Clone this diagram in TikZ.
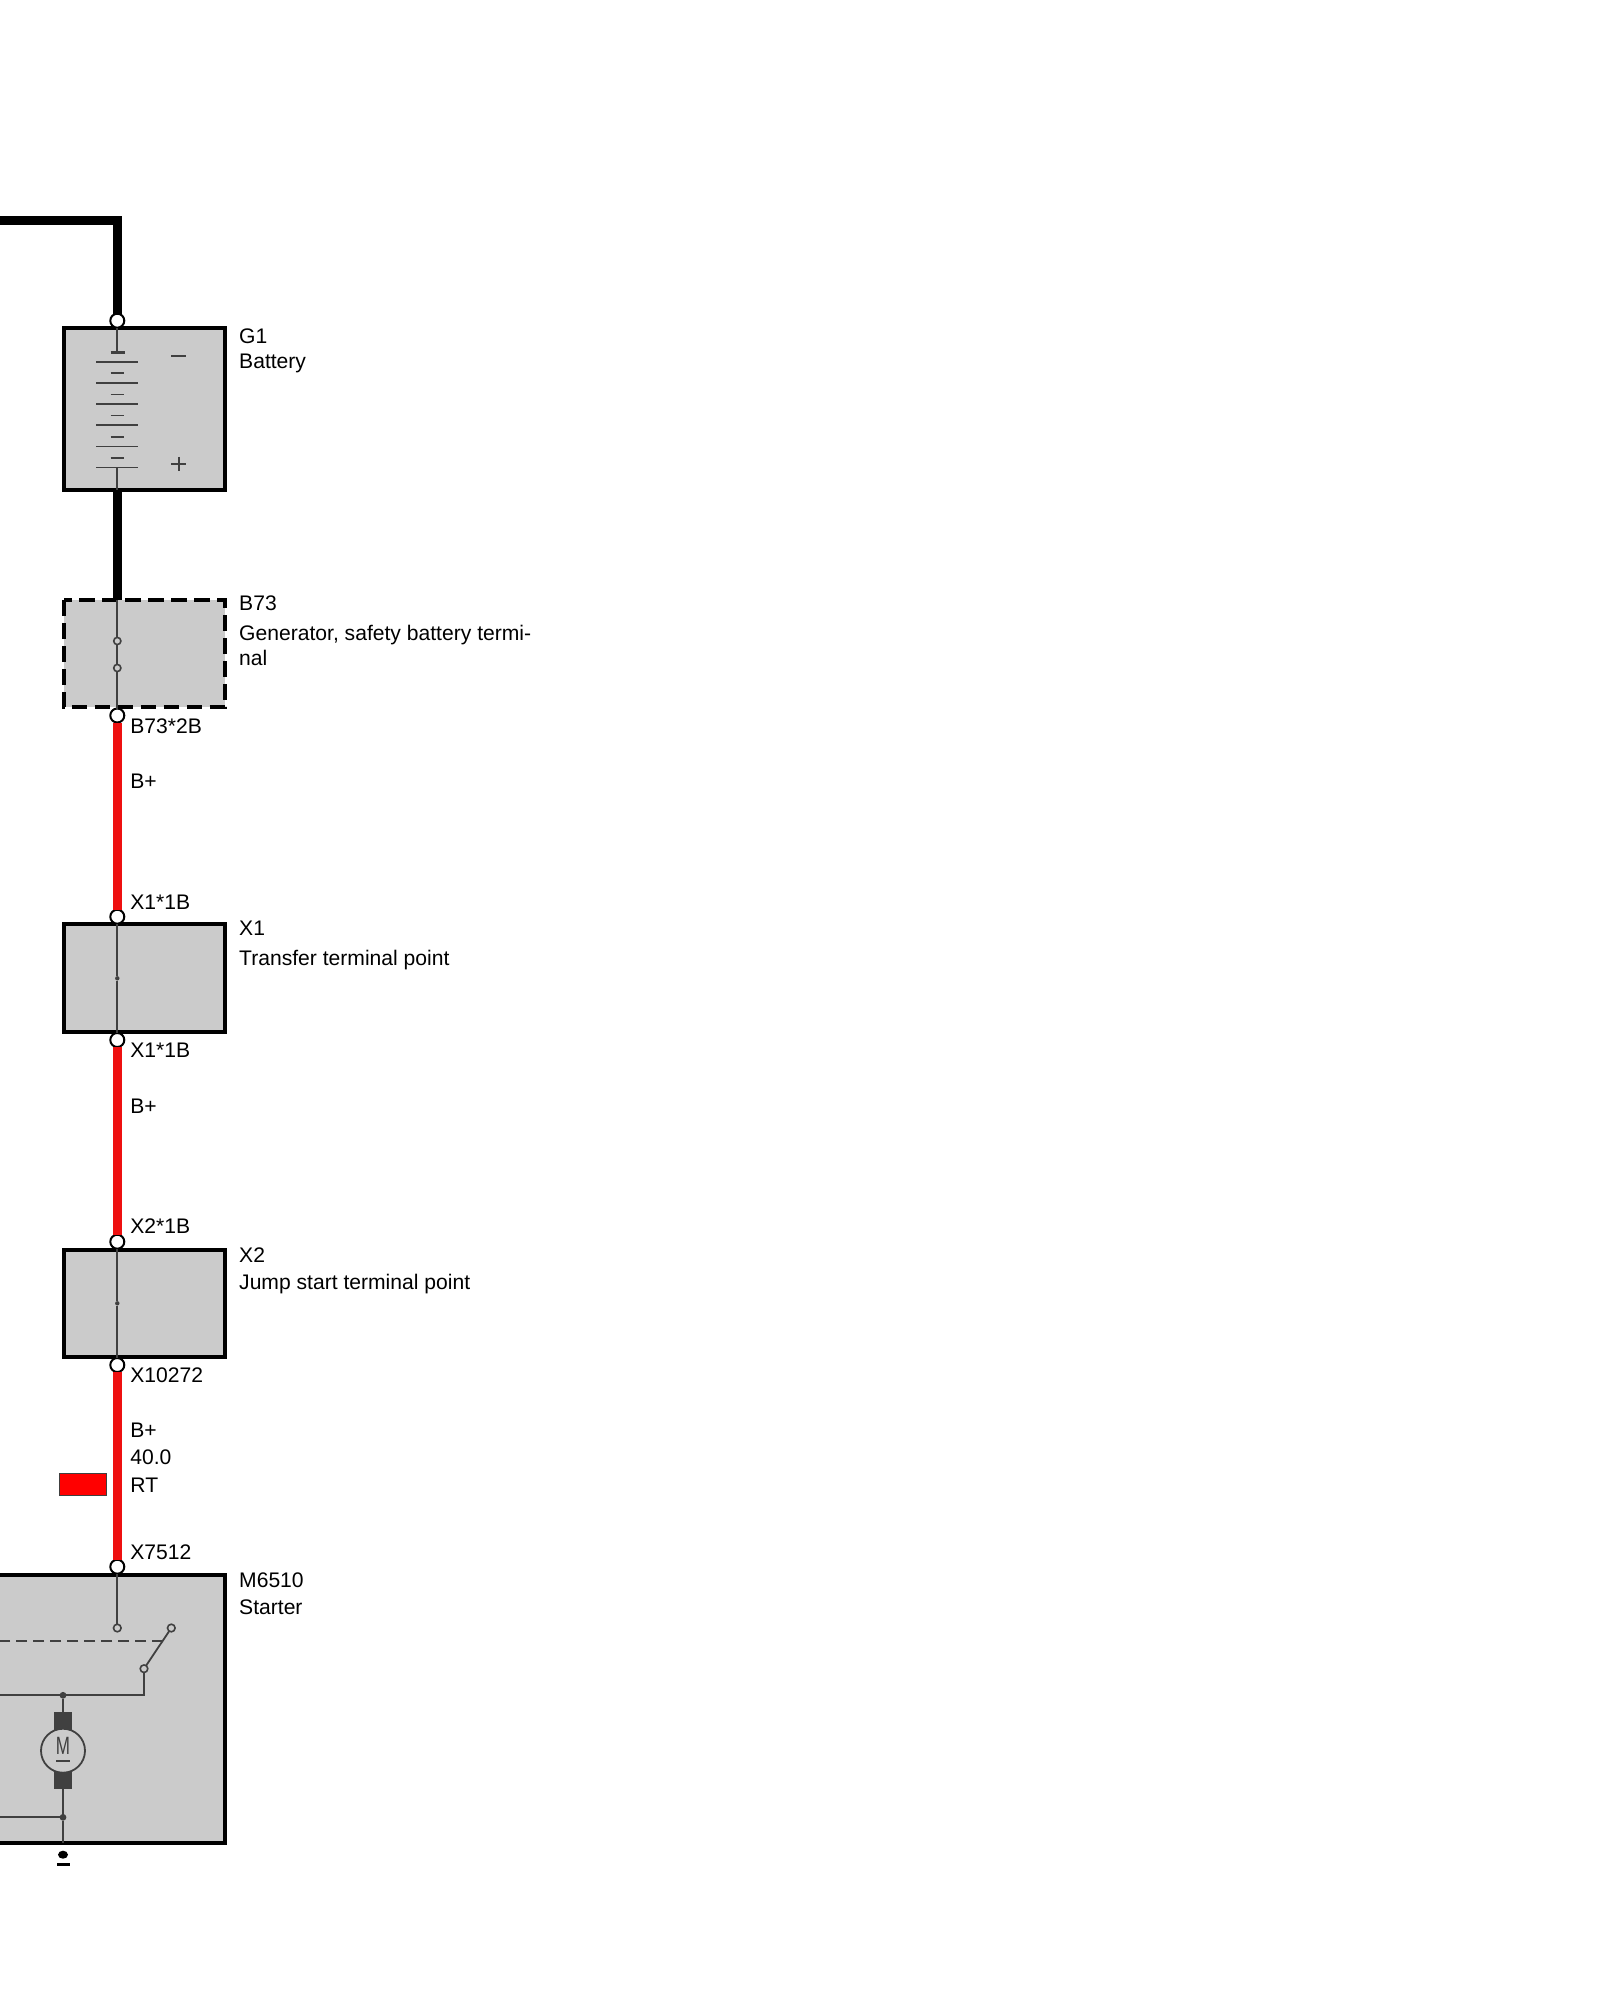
\documentclass[tikz,border=0pt]{standalone}
\usepackage{fontspec}
\setmainfont{Liberation Sans}
\usetikzlibrary{shapes.geometric}
\definecolor{boxgray}{HTML}{CBCBCB}
\definecolor{innerline}{HTML}{404040}
\definecolor{wirered}{HTML}{EE1010}
\tikzset{
	unitbox/.style={draw=black, fill=boxgray, line width=2pt, inner sep=0pt, outer sep=0pt, anchor=north west},
	terminal/.style={circle, draw=black, fill=white, line width=1pt, minimum size=7pt, inner sep=0pt, outer sep=0pt},
	contact/.style={circle, draw=innerline, fill=boxgray, line width=0.8pt, minimum size=3.6pt, inner sep=0pt, outer sep=0pt},
	junction/.style={circle, fill=innerline, minimum size=2.2pt, inner sep=0pt, outer sep=0pt},
	bigjunction/.style={circle, fill=innerline, minimum size=3.4pt, inner sep=0pt, outer sep=0pt},
	brush/.style={fill=innerline, minimum width=9pt, minimum height=9.4pt, inner sep=0pt, outer sep=0pt},
	blackwire/.style={draw=black, line width=4.2pt},
	redwire/.style={draw=wirered, line width=4.2pt},
	innerwire/.style={draw=innerline, line width=0.9pt},
	label/.style={anchor=base west, inner sep=0pt, font=\fontsize{10.55}{12}\selectfont}
}
\begin{document}
\begin{tikzpicture}[x=0.5pt,y=-0.5pt]
\useasboundingbox (0,0) rectangle (1600,2000);
\fill[white] (0,0) rectangle (1600,2000);
% boxes
\node [unitbox, minimum width=80.75pt, minimum height=80.75pt] (g1) at (63.5,328) {};
\node [unitbox, draw=none, minimum width=80.75pt, minimum height=53.5pt] (b73) at (63.5,600) {};
\node [unitbox, minimum width=80.75pt, minimum height=53.9pt] (x1) at (63.5,924.2) {};
\node [unitbox, minimum width=80.75pt, minimum height=53.4pt] (x2) at (63.5,1250) {};
\node [unitbox, minimum width=122.5pt, minimum height=134.2pt] (m6510) at (-20,1575) {};
\draw[black, line width=2pt, dash pattern=on 7.8pt off 3.7pt] (b73.north west) rectangle (b73.south east);
% terminals
\node [terminal] (g1top) at (117.3,320.7) {};
\coordinate (g1bot) at (117.3,490);
\coordinate (b73top) at (117.3,600);
\node [terminal] (b73bot) at (117.3,715.5) {};
\node [terminal] (x1top) at (117.3,916.7) {};
\node [terminal] (x1bot) at (117.3,1040) {};
\node [terminal] (x2top) at (117.3,1241.7) {};
\node [terminal] (x2bot) at (117.3,1365) {};
\node [terminal] (mtop) at (117.3,1566.7) {};
% wires
\coordinate (wirestart) at (-10,220.7);
\draw[blackwire] (wirestart) -| (g1top);
\draw[blackwire] (g1bot) -- (b73top);
\draw[redwire] (b73bot) -- (x1top);
\draw[redwire] (x1bot) -- (x2top);
\draw[redwire] (x2bot) -- (mtop);
% battery
\coordinate (cellA) at (117.3,352.4);
\coordinate (cellB) at (117.3,467.6);
\draw[innerwire] (g1top) -- (cellA);
\draw[innerwire] (cellB) -- (g1bot);
\draw[innerline, line width=1.5pt] (110.5,352.4) -- (124.5,352.4);
\foreach \y in {362,383.1,404.2,425.4,446.5,467.6}
	\draw[innerwire] (96.4,\y) -- (138,\y);
\foreach \y in {373.4,394.5,415.6,436.7,457.8}
	\draw[innerwire] (110.7,\y) -- (124.3,\y);
\draw[innerline, line width=1pt] (171.4,355.9) -- (185.7,355.9);
\draw[innerline, line width=0.9pt] (171.4,464) -- (185.7,464) (178.6,457) -- (178.6,471);
% safety terminal
\node [contact] (b73a) at (117.3,641) {};
\node [contact] (b73b) at (117.3,668) {};
\draw[innerwire] (b73top) -- (b73a) (b73a) -- (b73b) (b73b) -- (b73bot);
% terminal points
\node [junction] (x1dot) at (117.3,978.3) {};
\node [junction] (x2dot) at (117.3,1303.3) {};
\draw[innerwire] (x1top) -- (x1dot) -- (x1bot);
\draw[innerwire] (x2top) -- (x2dot) -- (x2bot);
% colour swatch
\node [draw=innerline, fill=red, line width=0.5pt, minimum width=23.5pt, minimum height=11pt, inner sep=0pt] (swatch) at (82.5,1484.5) {};
% starter
\node [contact, minimum size=3.8pt] (sw1) at (117.3,1628) {};
\node [contact, minimum size=3.8pt] (sw2) at (171.3,1628) {};
\node [contact, minimum size=3.8pt] (sw3) at (144,1668.7) {};
\node [bigjunction] (j1) at (63,1695.3) {};
\node [bigjunction] (j2) at (63,1817.3) {};
\node [brush] (brushup) at (63,1721.2) {};
\node [brush] (brushdn) at (63,1780) {};
\node [circle, draw=innerline, fill=boxgray, line width=0.9pt, minimum size=22pt, inner sep=0pt, outer sep=0pt] (motor) at (63,1750.7) {};
\node [xscale=0.68, text=innerline, inner sep=0pt, font=\fontsize{12.5}{13}\selectfont] (mlabel) at (63,1746) {M};
\coordinate (mline1) at (56,1761);
\coordinate (mline2) at (70.3,1761);
\draw[innerline, line width=0.7pt] (mline1) -- (mline2);
\coordinate (mbase) at (63,1843);
\coordinate (left1) at (-10,1695.3);
\coordinate (left2) at (-10,1817.3);
\coordinate (left3) at (-10,1641.3);
\coordinate (dashend) at (163,1641.3);
\draw[innerwire] (mtop) -- (sw1);
\draw[innerwire] (sw3) -- (sw2);
\draw[innerwire] (sw3) |- (j1);
\draw[innerwire] (j1) -- (left1);
\draw[innerwire] (j1) -- (brushup);
\draw[innerwire] (brushdn) -- (j2);
\draw[innerwire] (j2) -- (left2);
\draw[innerwire] (j2) -- (mbase);
\draw[innerwire, dash pattern=on 5.5pt off 3pt] (dashend) -- (left3);
% ground mark
\node [ellipse, fill=black, minimum width=5pt, minimum height=4pt, inner sep=0pt] (gnddot) at (63,1854.7) {};
\node [fill=black, minimum width=6.5pt, minimum height=1.6pt, inner sep=0pt] (gndbar) at (63,1864.5) {};
% labels
\node [label] at (238.8,344) {G1};
\node [label] at (238.8,369) {Battery};
\node [label] at (238.8,610.5) {B73};
\node [label] at (238.8,640) {Generator, safety battery termi-};
\node [label] at (238.8,665.5) {nal};
\node [label] at (130,733.5) {B73*2B};
\node [label] at (130,788) {B+};
\node [label] at (130,909) {X1*1B};
\node [label] at (238.8,935) {X1};
\node [label] at (238.8,965) {Transfer terminal point};
\node [label] at (130,1057.7) {X1*1B};
\node [label] at (130,1113.3) {B+};
\node [label] at (130,1233.5) {X2*1B};
\node [label] at (238.8,1262.7) {X2};
\node [label] at (238.8,1289) {Jump start terminal point};
\node [label] at (130,1382.7) {X10272};
\node [label] at (130,1437.3) {B+};
\node [label] at (130,1464.3) {40.0};
\node [label] at (130,1492) {RT};
\node [label] at (130,1559) {X7512};
\node [label] at (238.8,1587.3) {M6510};
\node [label] at (238.8,1614) {Starter};
\end{tikzpicture}
\end{document}
